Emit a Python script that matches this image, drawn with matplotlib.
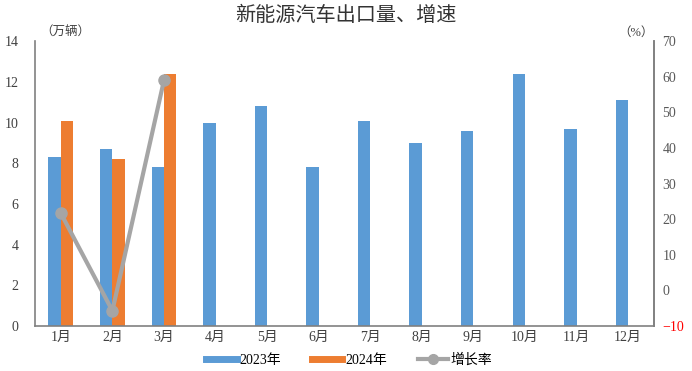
import numpy as np
import matplotlib.pyplot as plt
from matplotlib.lines import Line2D

plt.rcParams["font.family"] = ["Liberation Serif", "Noto Sans CJK SC"]

months = ["1月", "2月", "3月", "4月", "5月", "6月", "7月", "8月", "9月", "10月", "11月", "12月"]
v2023 = [8.3, 8.7, 7.8, 10.0, 10.8, 7.8, 10.1, 9.0, 9.6, 12.4, 9.7, 11.1]
v2024 = [10.1, 8.2, 12.4]
growth = [21.7, -5.7, 59.0]

blue = "#5B9BD5"
orange = "#ED7D31"
gray = "#A5A5A5"
axcol = "#808080"

fig = plt.figure(figsize=(6.92, 3.71), dpi=100)
ax = fig.add_axes([0.0506, 0.121, 0.8944, 0.768])
x = np.arange(len(months))
w = 0.24
ax.bar(x - w / 2, v2023, width=w, color=blue, zorder=2)
ax.bar(x[:len(v2024)] + w / 2, v2024, width=w, color=orange, zorder=2)
ax.set_xlim(-0.5, 11.5)
ax.set_ylim(0, 14)
ax.set_yticks(range(0, 15, 2))
ax.set_xticks(x)
ax.set_xticklabels(months)
ax.tick_params(axis="both", length=0, labelsize=10, colors="#404040")
ax.tick_params(axis="y", pad=12)
ax.spines["top"].set_visible(False)
for s in ["left", "bottom", "right"]:
    ax.spines[s].set_color(axcol)
    ax.spines[s].set_linewidth(1.2)

ax2 = ax.twinx()
ax2.plot(x[:len(growth)], growth, color=gray, lw=3, marker="o", ms=8, zorder=3)
ax2.set_ylim(-10, 70)
ax2.set_yticks(range(-10, 71, 10))
ax2.tick_params(axis="y", length=0, labelsize=10, colors="#595959", pad=6)
ax2.get_yticklabels()[0].set_color("red")
for s in ["top", "left", "bottom"]:
    ax2.spines[s].set_visible(False)
ax2.spines["right"].set_color(axcol)
ax2.spines["right"].set_linewidth(1.2)

fig.text(0.5, 0.955, "新能源汽车出口量、增速", ha="center", va="center", fontsize=14.5, color="#333333")
fig.text(0.058, 0.915, "（万辆）", ha="left", va="center", fontsize=9, color="#404040")
fig.text(0.945, 0.912, "（%）", ha="right", va="center", fontsize=9, color="#404040")

handles = [
    Line2D([0], [0], color=blue, lw=5),
    Line2D([0], [0], color=orange, lw=5),
    Line2D([0], [0], color=gray, lw=3, marker="o", ms=7),
]
fig.legend(handles, ["2023年", "2024年", "增长率"], loc="center", bbox_to_anchor=(0.505, 0.03),
           ncol=3, frameon=False, fontsize=10, handlelength=2.2, columnspacing=2.2, handletextpad=0.2)

fig.savefig("out.png", dpi=100)
